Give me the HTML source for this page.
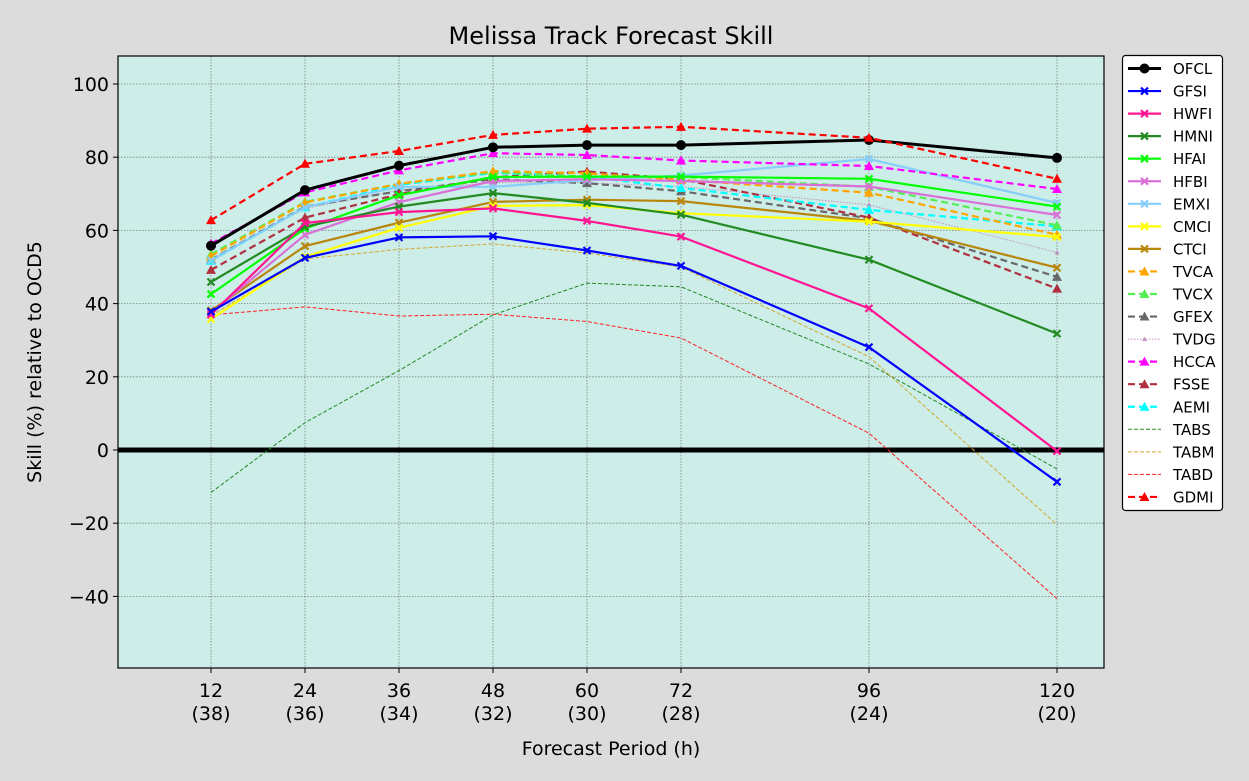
<!DOCTYPE html>
<html><head><meta charset="utf-8"><style>
html,body{margin:0;padding:0;background:#dcdcdc;}
svg{display:block;font-family:"DejaVu Sans","Liberation Sans",sans-serif;}
</style></head><body>
<svg id="s" width="1249" height="781" xmlns="http://www.w3.org/2000/svg"></svg>
<script>
const S=document.getElementById('s');
let h='';
const X0=118,X1=1104,Y0=56,Y1=668;
const xp=t=>211+(t-12)*846/108;
const yp=v=>450-v*3.66;
h+=`<rect x="0" y="0" width="1249" height="781" fill="#dcdcdc"/>`;
h+=`<rect x="${X0}" y="${Y0}" width="${X1-X0}" height="${Y1-Y0}" fill="#cdede8"/>`;
const hrs=[12,24,36,48,60,72,96,120],cnt=[38,36,34,32,30,28,24,20];
hrs.forEach(t=>{h+=`<line x1="${xp(t)}" y1="${Y0}" x2="${xp(t)}" y2="${Y1}" stroke="#555" stroke-width="0.8" stroke-dasharray="1.5,1.5" opacity="0.7"/>`;});
[-40,-20,0,20,40,60,80,100].forEach(v=>{h+=`<line x1="${X0}" y1="${yp(v)}" x2="${X1}" y2="${yp(v)}" stroke="#555" stroke-width="0.8" stroke-dasharray="1.5,1.5" opacity="0.7"/>`;});
h+=`<line x1="${X0}" y1="${yp(0)}" x2="${X1}" y2="${yp(0)}" stroke="#000" stroke-width="5"/>`;
const D=[
["OFCL","#000","solid","o",55.8,71,77.7,82.7,83.3,83.3,84.7,79.8],
["GFSI","#0000ff","solid","x",37.8,52.5,58.1,58.4,54.5,50.3,28.1,-8.7],
["HWFI","#ff1493","solid","x",37,62,65,66,62.6,58.3,38.7,-0.3],
["HMNI","#228b22","solid","x",45.9,61,66.5,70.2,67.5,64.3,52,31.8],
["HFAI","#00ff00","solid","x",42.6,60.5,69.6,74.6,74.7,74.7,74.1,66.5],
["HFBI","#da70d6","solid","x",37.5,58.8,67.7,73.5,74,73.5,72,64.2],
["EMXI","#87cefa","solid","x",51.8,66.3,71.9,71.9,73.7,75,79.5,67.5],
["CMCI","#ffff00","solid","x",35.8,52.8,60.7,66.7,66.9,64.7,62.4,58.2],
["CTCI","#b8860b","solid","x",38.1,55.7,62.1,67.8,68.4,68.0,62.6,49.8],
["TVCA","#ffa500","dash","t",53,67.6,72.7,76.2,75.6,73.8,70.3,58.8],
["TVCX","#55ee55","dash","t",53.5,67.8,72.7,75.9,74.7,74.6,71.9,61.4],
["GFEX","#696969","dash","t",52,66.5,70.7,74,72.9,70.7,63.3,47.3],
["TVDG","#c090c0","dot","s",52,66,71,73,73,72,67,54],
["HCCA","#ff00ff","dash","t",56.4,70.4,76.4,81.1,80.6,79.1,77.6,71.3],
["FSSE","#b03040","dash","t",49.2,63.5,69.9,74.5,76.1,74,63.5,44.1],
["AEMI","#00ffff","dash","t",51.7,66.3,72.4,75.7,74.7,71.6,65.6,61.1],
["TABS","#228b22","thin","",-11.6,7.5,21.7,36.9,45.6,44.6,23.5,-5.2],
["TABM","#d4a830","thin","",36.7,52.2,54.8,56.3,53.8,50,25.5,-20.4],
["TABD","#ff2020","thin","",36.9,39.1,36.6,37.1,35.1,30.6,4.6,-40.6],
["GDMI","#ff0000","dash","t",62.8,78.2,81.7,86.1,87.8,88.3,85.3,74.1]
];
function mk(m,x,y,c){
 if(m=="o")return `<circle cx="${x}" cy="${y}" r="5" fill="${c}"/>`;
 if(m=="x")return `<path d="M${x-3.5},${y-3.5}L${x+3.5},${y+3.5}M${x-3.5},${y+3.5}L${x+3.5},${y-3.5}" stroke="${c}" stroke-width="2.2"/>`;
 if(m=="t")return `<path d="M${x},${y-5}L${x+5},${y+4}L${x-5},${y+4}Z" fill="${c}"/>`;
 if(m=="s")return `<path d="M${x},${y-2.5}L${x+2.5},${y+2}L${x-2.5},${y+2}Z" fill="${c}"/>`;
 return '';
}
function sty(st,c){
 if(st=="solid")return `stroke="${c}" stroke-width="${c=="#000"?3:2.2}"`;
 if(st=="dash")return `stroke="${c}" stroke-width="2.2" stroke-dasharray="7,4"`;
 if(st=="dot")return `stroke="${c}" stroke-width="1" stroke-dasharray="1.5,1.5"`;
 return `stroke="${c}" stroke-width="1" stroke-dasharray="4,2"`;
}
const order=[16,17,18,12,11,14,15,10,9,8,7,6,5,4,3,2,1,13,0,19];
order.forEach(i=>{const d=D[i];const v=d.slice(4);
 const pts=v.map((y,j)=>xp(hrs[j]).toFixed(1)+","+yp(y).toFixed(1)).join(" ");
 h+=`<polyline points="${pts}" fill="none" ${sty(d[2],d[1])} stroke-linejoin="round"/>`;
 v.forEach((y,j)=>{h+=mk(d[3],xp(hrs[j]),yp(y),d[1]);});
});
h+=`<rect x="${X0}" y="${Y0}" width="${X1-X0}" height="${Y1-Y0}" fill="none" stroke="#000" stroke-width="1.2"/>`;
[-40,-20,0,20,40,60,80,100].forEach(v=>{const y=yp(v);h+=`<line x1="${X0-5}" y1="${y}" x2="${X0}" y2="${y}" stroke="#000"/><text x="${X0-9}" y="${y+7}" font-size="19" text-anchor="end">${v<0?'\u2212'+(-v):v}</text>`;});
hrs.forEach((t,j)=>{const x=xp(t);h+=`<line x1="${x}" y1="${Y1}" x2="${x}" y2="${Y1+5}" stroke="#000"/><text x="${x}" y="${Y1+29}" font-size="19" text-anchor="middle">${t}</text><text x="${x}" y="${Y1+52}" font-size="19" text-anchor="middle">(${cnt[j]})</text>`;});
h+=`<text x="611" y="44" font-size="24" text-anchor="middle">Melissa Track Forecast Skill</text>`;
h+=`<text x="611" y="755" font-size="19" text-anchor="middle">Forecast Period (h)</text>`;
h+=`<text transform="translate(41,362) rotate(-90)" font-size="19" text-anchor="middle">Skill (%) relative to OCD5</text>`;
h+=`<rect x="1122.5" y="55.5" width="100" height="455" rx="3" fill="#fff" stroke="#000" stroke-width="1.2"/>`;
D.forEach((d,i)=>{const y=68.5+i*22.55;
 h+=`<line x1="1128" y1="${y}" x2="1161" y2="${y}" ${sty(d[2],d[1])}/>`+mk(d[3],1144.5,y,d[1]);
 h+=`<text x="1173" y="${y+5.5}" font-size="15">${d[0]}</text>`;});
S.innerHTML=h;
</script>
</body></html>
